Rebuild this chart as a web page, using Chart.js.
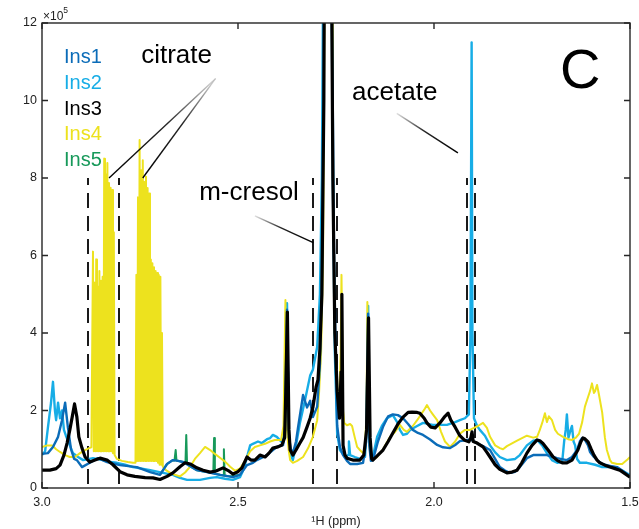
<!DOCTYPE html>
<html>
<head>
<meta charset="utf-8">
<script src="https://cdn.jsdelivr.net/npm/chart.js@4.4.1/dist/chart.umd.min.js"></script>
<style>
  html, body { margin: 0; padding: 0; background: #fff; }
  #wrap { width: 639px; height: 529px; }
</style>
</head>
<body>
<div id="wrap"><canvas id="spectrum" width="639" height="529"></canvas></div>
<script>
// ── Spectra (chemical shift in ppm, intensity in units of 1e5) ──────────

const ins1Ppm = [
  3.000, 2.985, 2.972, 2.959, 2.949, 2.941, 2.934, 2.926, 2.918, 2.911,
  2.898, 2.878, 2.857, 2.834, 2.801, 2.758, 2.724, 2.699, 2.681, 2.666,
  2.653, 2.640, 2.622, 2.605, 2.579, 2.546, 2.513, 2.495, 2.477, 2.462,
  2.452, 2.426, 2.401, 2.385, 2.380, 2.375, 2.370, 2.365, 2.360, 2.352,
  2.347, 2.334, 2.324, 2.316, 2.309, 2.298, 2.291, 2.286, 2.281, 2.275,
  2.270, 2.265, 2.260, 2.255, 2.251, 2.247, 2.240, 2.232, 2.222, 2.214,
  2.196, 2.181, 2.173, 2.168, 2.165, 2.161, 2.156, 2.143, 2.130, 2.117,
  2.105, 2.092, 2.079, 2.066, 2.054, 2.041, 2.028, 2.010, 1.992, 1.977,
  1.959, 1.946, 1.934, 1.916, 1.906, 1.900, 1.888, 1.875, 1.857, 1.844,
  1.832, 1.819, 1.806, 1.793, 1.781, 1.763, 1.747, 1.730, 1.712, 1.696,
  1.686, 1.671, 1.661, 1.648, 1.635, 1.628, 1.622, 1.615, 1.607, 1.602,
  1.592, 1.584, 1.571, 1.559, 1.546, 1.533, 1.520, 1.508, 1.500
];
const ins1Int = [
  0.88, 0.90, 1.06, 1.32, 1.75, 2.20, 1.57, 1.00, 0.75, 0.72,
  0.54, 0.65, 0.77, 0.67, 0.59, 0.54, 0.41, 0.34, 0.62, 0.72,
  0.70, 0.67, 0.56, 0.46, 0.41, 0.34, 0.28, 0.34, 0.59, 0.65,
  0.72, 0.85, 1.06, 1.11, 1.50, 4.60, 1.30, 1.00, 0.90, 1.20,
  1.55, 2.40, 2.08, 2.25, 1.83, 2.10, 3.20, 5.50, 12, 30,
  40, 25, 12, 6, 3.5, 1.6, 1.06, 0.85, 0.70, 0.62,
  0.62, 0.65, 1.20, 4.50, 1.10, 0.70, 0.72, 1.20, 1.58, 1.85,
  1.90, 1.88, 1.80, 1.65, 1.50, 1.42, 1.37, 1.25, 1.11, 1.05,
  1.03, 1.11, 1.21, 1.24, 1.25, 1.21, 1.14, 1.08, 0.98, 0.75,
  0.54, 0.45, 0.39, 0.42, 0.54, 0.77, 0.85, 0.85, 0.85, 0.80,
  0.77, 0.74, 0.72, 0.80, 0.98, 1.20, 1.29, 1.24, 1.10, 0.93,
  0.80, 0.72, 0.62, 0.59, 0.56, 0.54, 0.45, 0.36, 0.28
];

const ins2Ppm = [
  3.000, 2.992, 2.985, 2.977, 2.972, 2.967, 2.964, 2.959, 2.954, 2.949,
  2.944, 2.939, 2.929, 2.921, 2.908, 2.895, 2.870, 2.844, 2.827, 2.809,
  2.788, 2.768, 2.745, 2.724, 2.691, 2.666, 2.648, 2.630, 2.597, 2.571,
  2.554, 2.533, 2.513, 2.495, 2.485, 2.477, 2.469, 2.462, 2.449, 2.439,
  2.426, 2.418, 2.411, 2.401, 2.390, 2.385, 2.380, 2.375, 2.371, 2.367,
  2.360, 2.352, 2.342, 2.329, 2.316, 2.309, 2.298, 2.291, 2.286, 2.281,
  2.275, 2.272, 2.268, 2.263, 2.258, 2.253, 2.247, 2.240, 2.227, 2.219,
  2.217, 2.214, 2.202, 2.189, 2.176, 2.172, 2.168, 2.165, 2.161, 2.156,
  2.145, 2.133, 2.120, 2.105, 2.094, 2.087, 2.079, 2.069, 2.061, 2.043,
  2.028, 2.003, 1.985, 1.967, 1.946, 1.934, 1.921, 1.911, 1.907, 1.904,
  1.902, 1.898, 1.890, 1.883, 1.870, 1.857, 1.844, 1.832, 1.814, 1.793,
  1.781, 1.763, 1.747, 1.737, 1.724, 1.712, 1.699, 1.686, 1.673, 1.668,
  1.664, 1.661, 1.657, 1.653, 1.648, 1.644, 1.640, 1.635, 1.628, 1.610,
  1.589, 1.571, 1.551, 1.533, 1.520, 1.508, 1.500
];
const ins2Int = [
  0.85, 0.95, 1.55, 2.20, 2.74, 2.00, 1.75, 2.20, 1.80, 2.00,
  1.50, 1.35, 1.10, 0.90, 0.80, 0.72, 0.77, 0.72, 0.67, 0.65,
  0.60, 0.54, 0.50, 0.46, 0.39, 0.34, 0.26, 0.21, 0.21, 0.26,
  0.28, 0.24, 0.21, 0.28, 0.50, 0.80, 1.10, 1.14, 1.20, 1.16,
  1.26, 1.29, 1.37, 1.32, 1.20, 1.15, 1.80, 4.77, 1.50, 0.90,
  0.72, 1.10, 1.68, 2.27, 2.90, 3.05, 3.64, 5, 8, 16,
  35, 40, 30, 16, 8, 3.5, 1.4, 0.98, 0.80, 0.85,
  1.20, 0.85, 0.80, 0.75, 0.80, 1.50, 4.70, 1.50, 0.85, 0.80,
  1.32, 1.60, 1.80, 1.88, 1.70, 1.50, 1.37, 1.40, 1.50, 1.60,
  1.68, 1.63, 1.63, 1.63, 1.70, 1.75, 1.80, 1.90, 4.0, 11.5,
  4.0, 1.80, 1.60, 1.50, 1.35, 1.10, 0.92, 0.80, 0.72, 0.75,
  0.85, 1.10, 1.22, 1.24, 1.10, 0.90, 0.72, 0.65, 0.67, 1.20,
  1.50, 1.90, 1.30, 1.45, 1.60, 1.20, 1.10, 0.75, 0.65, 0.65,
  0.60, 0.54, 0.54, 0.50, 0.45, 0.38, 0.34
];

const ins3Ppm = [
  3.000, 2.980, 2.964, 2.954, 2.944, 2.936, 2.929, 2.923, 2.917, 2.911,
  2.906, 2.898, 2.890, 2.878, 2.865, 2.852, 2.834, 2.819, 2.801, 2.783,
  2.763, 2.737, 2.717, 2.699, 2.681, 2.666, 2.648, 2.635, 2.622, 2.605,
  2.589, 2.571, 2.556, 2.538, 2.525, 2.513, 2.500, 2.490, 2.477, 2.467,
  2.457, 2.444, 2.431, 2.421, 2.411, 2.398, 2.388, 2.381, 2.378, 2.374,
  2.370, 2.367, 2.360, 2.352, 2.342, 2.334, 2.324, 2.316, 2.309, 2.301,
  2.296, 2.291, 2.286, 2.281, 2.275, 2.272, 2.268, 2.263, 2.258, 2.253,
  2.247, 2.241, 2.237, 2.235, 2.232, 2.227, 2.222, 2.207, 2.189, 2.179,
  2.172, 2.167, 2.163, 2.159, 2.156, 2.143, 2.130, 2.117, 2.105, 2.092,
  2.079, 2.066, 2.056, 2.043, 2.036, 2.025, 2.018, 2.008, 1.997, 1.985,
  1.972, 1.964, 1.957, 1.946, 1.934, 1.923, 1.911, 1.906, 1.903, 1.900,
  1.890, 1.875, 1.865, 1.857, 1.844, 1.832, 1.814, 1.801, 1.788, 1.776,
  1.763, 1.750, 1.737, 1.730, 1.722, 1.709, 1.696, 1.684, 1.673, 1.661,
  1.648, 1.633, 1.625, 1.620, 1.615, 1.607, 1.599, 1.592, 1.584, 1.577,
  1.564, 1.551, 1.538, 1.526, 1.513, 1.500
];
const ins3Int = [
  0.46, 0.46, 0.50, 0.59, 0.85, 1.16, 1.50, 1.83, 2.17, 1.83,
  1.32, 1.03, 0.80, 0.67, 0.72, 0.77, 0.72, 0.60, 0.42, 0.34,
  0.30, 0.27, 0.26, 0.22, 0.30, 0.39, 0.55, 0.65, 0.62, 0.52,
  0.46, 0.41, 0.44, 0.52, 0.45, 0.36, 0.42, 0.52, 0.80, 0.72,
  0.72, 0.85, 0.80, 0.90, 1.03, 1.06, 1.11, 1.30, 2.50, 4.54,
  1.50, 0.98, 0.85, 0.98, 1.16, 1.30, 1.57, 1.80, 2.08, 2.60,
  2.79, 3.60, 5.0, 10, 25, 42, 30, 16, 8, 4,
  2.5, 1.8, 3.0, 5.0, 1.1, 0.85, 0.77, 0.72, 0.72, 0.85,
  1.50, 4.39, 1.30, 0.75, 0.72, 0.85, 0.98, 1.20, 1.42, 1.65,
  1.83, 1.95, 1.96, 1.95, 1.93, 1.80, 1.68, 1.57, 1.55, 1.68,
  1.85, 1.93, 1.75, 1.57, 1.35, 1.24, 1.19, 1.30, 1.45, 1.20,
  1.16, 1.06, 0.92, 0.80, 0.60, 0.48, 0.39, 0.41, 0.46, 0.65,
  0.90, 1.10, 1.24, 1.22, 1.15, 0.98, 0.80, 0.70, 0.65, 0.65,
  0.72, 0.98, 1.20, 1.29, 1.27, 1.19, 1.00, 0.85, 0.72, 0.65,
  0.59, 0.54, 0.50, 0.46, 0.37, 0.28
];

const ins4Ppm = [
  3.000, 2.987, 2.974, 2.964, 2.954, 2.941, 2.929, 2.916, 2.903, 2.890,
  2.880, 2.874,
  // citrate, downfield half
  2.8699, 2.8679, 2.8658, 2.8638, 2.8617, 2.8597, 2.8577, 2.8556, 2.8536, 2.8515,
  2.8495, 2.8474, 2.8454, 2.8434, 2.8413, 2.8393, 2.8372, 2.8352, 2.8332, 2.8311,
  2.8291, 2.8270, 2.8250, 2.8230, 2.8209, 2.8189, 2.8168, 2.8148,
  2.809, 2.796, 2.781, 2.768, 2.7615,
  // citrate, upfield half
  2.7592, 2.7571, 2.7551, 2.7531, 2.7510, 2.7490, 2.7469, 2.7449, 2.7429, 2.7408,
  2.7388, 2.7367, 2.7347, 2.7327, 2.7306, 2.7286, 2.7265, 2.7245, 2.7224, 2.7204,
  2.7184, 2.7163, 2.7143, 2.7122, 2.7102, 2.7082, 2.7061, 2.7041, 2.7020, 2.7000,
  2.6980, 2.6959, 2.6939, 2.6918,
  2.684, 2.673, 2.661, 2.648, 2.635, 2.622, 2.610, 2.597, 2.584, 2.571,
  2.559, 2.546, 2.533, 2.520, 2.508, 2.495, 2.482, 2.469, 2.457, 2.444,
  2.431, 2.418, 2.406, 2.390, 2.384, 2.379, 2.375, 2.371, 2.367, 2.360,
  2.349, 2.334, 2.321, 2.309, 2.298, 2.293, 2.288, 2.283, 2.278, 2.273,
  2.269, 2.265, 2.260, 2.258, 2.253, 2.247, 2.242, 2.238, 2.236, 2.232,
  2.229, 2.222, 2.214, 2.209, 2.202, 2.196, 2.189, 2.181, 2.176, 2.172,
  2.170, 2.167, 2.163, 2.156, 2.145, 2.130, 2.112, 2.099, 2.087, 2.077,
  2.069, 2.054, 2.043, 2.033, 2.023, 2.018, 2.010, 2.003, 1.992, 1.982,
  1.972, 1.959, 1.946, 1.934, 1.921, 1.908, 1.898, 1.888, 1.875, 1.865,
  1.857, 1.844, 1.832, 1.824, 1.814, 1.801, 1.788, 1.773, 1.763, 1.747,
  1.737, 1.730, 1.724, 1.717, 1.712, 1.707, 1.699, 1.691, 1.684, 1.671,
  1.658, 1.648, 1.638, 1.630, 1.622, 1.615, 1.607, 1.602, 1.597, 1.592,
  1.589, 1.584, 1.579, 1.571, 1.564, 1.559, 1.551, 1.546, 1.533, 1.520,
  1.508, 1.500
];
const ins4Int = [
  1.06, 1.10, 1.10, 1.00, 0.93, 0.85, 0.80, 0.80, 0.90, 0.98,
  1.03, 1.05,
  6.10, 0.95, 5.30, 0.95, 5.90, 0.95, 5.20, 0.95, 5.60, 0.95,
  5.35, 0.95, 5.45, 0.95, 8.50, 0.95, 8.10, 0.95, 8.39, 0.95,
  7.87, 0.95, 7.75, 0.95, 7.69, 0.90, 6.60, 0.85,
  0.75, 0.70, 0.67, 0.65, 0.65,
  5.50, 0.70, 7.50, 0.70, 8.98, 0.70, 8.20, 0.70, 8.46, 0.70,
  7.90, 0.70, 8.03, 0.70, 7.74, 0.70, 7.60, 0.70, 5.90, 0.70,
  5.80, 0.70, 5.70, 0.70, 5.60, 0.70, 5.55, 0.65, 5.50, 0.60,
  5.45, 0.60, 4.00, 0.55,
  0.46, 0.39, 0.34, 0.30, 0.40, 0.55, 0.75, 0.90, 1.06, 0.98,
  0.88, 0.78, 0.68, 0.55, 0.45, 0.50, 0.70, 0.95, 1.06, 1.10,
  1.14, 1.20, 1.24, 1.24, 1.60, 4.85, 1.50, 1.00, 0.72, 0.65,
  0.70, 0.80, 1.03, 1.32, 1.75, 2.50, 3.50, 6.0, 15, 35,
  42, 25, 12, 9, 4, 2.5, 2.2, 3.5, 5.5, 2.0,
  1.68, 1.62, 1.65, 1.60, 1.30, 1.06, 0.98, 0.90, 1.00, 2.00,
  4.80, 1.50, 0.90, 0.75, 0.80, 1.00, 1.32, 1.45, 1.63, 1.50,
  1.45, 1.60, 1.75, 1.90, 2.05, 2.14, 2.00, 1.90, 1.75, 1.45,
  1.20, 1.06, 1.20, 1.40, 1.50, 1.50, 1.55, 1.60, 1.68, 1.55,
  1.32, 1.10, 1.03, 1.00, 1.08, 1.15, 1.22, 1.30, 1.35, 1.30,
  1.32, 1.50, 1.68, 1.93, 1.70, 1.85, 1.75, 1.50, 1.40, 1.32,
  1.26, 1.24, 1.30, 1.40, 1.70, 2.10, 2.35, 2.50, 2.70, 2.45,
  2.50, 2.66, 2.40, 1.95, 1.30, 0.98, 0.72, 0.65, 0.62, 0.62,
  0.72, 0.80
];

const ins5Ppm = [
  2.699, 2.681, 2.668, 2.662, 2.659, 2.657, 2.648, 2.638, 2.634, 2.632,
  2.630, 2.622, 2.605, 2.579, 2.563, 2.561, 2.559, 2.546, 2.537, 2.536,
  2.534, 2.520, 2.495
];
const ins5Int = [
  0.34, 0.62, 0.71, 0.71, 0.98, 0.71, 0.69, 0.66, 0.64, 1.37,
  0.62, 0.56, 0.46, 0.41, 0.38, 1.29, 0.37, 0.34, 0.32, 1.00,
  0.32, 0.30, 0.34
];

const sampleNames = ['Ins1', 'Ins2', 'Ins3', 'Ins4', 'Ins5'];
const sampleColors = ['#0B6CB8', '#17ADE6', '#000000', '#EDE21E', '#17995A'];

// integration windows (ppm), drawn as dashed markers up to dashTop
const dashPpm = [2.883, 2.804, 2.309, 2.247, 1.917, 1.895];
const dashTop = 8;

// compound labels and their leader lines, in data units
const labelText = ['citrate', 'm-cresol', 'acetate'];
const labelAt = [[2.747, 10.97], [2.599, 7.43], [2.209, 10.01]];
const leaders = [
  [[2.557, 10.57], [2.829, 8.0]],
  [[2.557, 10.57], [2.743, 8.0]],
  [[2.457, 7.02], [2.308, 6.33]],
  [[2.095, 9.67], [1.939, 8.65]]
];

const FONT = '"Liberation Sans", Arial, Helvetica, sans-serif';
Chart.defaults.font.family = FONT;

const toPoints = (xs, ys) => xs.map((v, i) => ({ x: v, y: ys[i] }));

const series = [
  { ppm: ins1Ppm, int: ins1Int, order: 1, width: 2.4 },
  { ppm: ins2Ppm, int: ins2Int, order: 3, width: 2.4 },
  { ppm: ins3Ppm, int: ins3Int, order: 0, width: 3.2 },
  { ppm: ins4Ppm, int: ins4Int, order: 2, width: 2 },
  { ppm: ins5Ppm, int: ins5Int, order: 4, width: 2 }
];

const datasets = series.map((s, i) => ({
  label: sampleNames[i],
  data: toPoints(s.ppm, s.int),
  borderColor: sampleColors[i],
  backgroundColor: sampleColors[i],
  borderWidth: s.width,
  borderJoinStyle: 'round',
  pointRadius: 0,
  tension: 0,
  fill: false,
  order: s.order
}));

// frame, inward ticks, markers and text drawn on top of the chart area
const overlay = {
  id: 'overlay',
  beforeDatasetsDraw(chart) {
    const { ctx, scales: { x, y } } = chart;
    ctx.save();
    ctx.strokeStyle = '#1a1a1a';
    ctx.lineWidth = 2;
    ctx.setLineDash([15, 8]);
    ctx.lineDashOffset = 8;
    dashPpm.forEach(p => {
      const px = Math.round(x.getPixelForValue(p));
      ctx.beginPath();
      ctx.moveTo(px, y.getPixelForValue(dashTop));
      ctx.lineTo(px, y.getPixelForValue(0));
      ctx.stroke();
    });
    ctx.restore();
  },
  afterDatasetsDraw(chart) {
    const { ctx, chartArea: a, scales: { x, y } } = chart;
    ctx.save();

    // box
    ctx.strokeStyle = '#262626';
    ctx.lineWidth = 1.4;
    ctx.strokeRect(a.left, a.top, a.right - a.left, a.bottom - a.top);

    // ticks pointing inward on all four sides
    const tl = 6;
    ctx.beginPath();
    x.ticks.forEach(t => {
      const px = x.getPixelForValue(t.value);
      ctx.moveTo(px, a.bottom); ctx.lineTo(px, a.bottom - tl);
      ctx.moveTo(px, a.top); ctx.lineTo(px, a.top + tl);
    });
    y.ticks.forEach(t => {
      const py = y.getPixelForValue(t.value);
      ctx.moveTo(a.left, py); ctx.lineTo(a.left + tl, py);
      ctx.moveTo(a.right, py); ctx.lineTo(a.right - tl, py);
    });
    ctx.stroke();

    // leader lines fade in from the label side
    ctx.lineWidth = 1.4;
    leaders.forEach(([from, to]) => {
      const x0 = x.getPixelForValue(from[0]), y0 = y.getPixelForValue(from[1]);
      const x1 = x.getPixelForValue(to[0]), y1 = y.getPixelForValue(to[1]);
      const g = ctx.createLinearGradient(x0, y0, x1, y1);
      g.addColorStop(0, 'rgba(0,0,0,0.12)');
      g.addColorStop(0.45, 'rgba(0,0,0,0.85)');
      g.addColorStop(1, '#000');
      ctx.strokeStyle = g;
      ctx.beginPath();
      ctx.moveTo(x0, y0);
      ctx.lineTo(x1, y1);
      ctx.stroke();
    });

    // compound names
    ctx.fillStyle = '#000';
    ctx.textBaseline = 'alphabetic';
    ctx.textAlign = 'left';
    ctx.font = '26px ' + FONT;
    labelText.forEach((txt, i) => {
      ctx.fillText(txt, x.getPixelForValue(labelAt[i][0]), y.getPixelForValue(labelAt[i][1]));
    });

    // panel letter
    ctx.font = '56px ' + FONT;
    ctx.fillText('C', a.right - 70, a.top + 65);

    // coloured sample names
    ctx.font = '20px ' + FONT;
    chart.data.datasets.forEach((ds, i) => {
      ctx.fillStyle = ds.borderColor;
      ctx.fillText(ds.label, a.left + 22, a.top + 40 + i * 25.8);
    });

    // axis multiplier
    ctx.fillStyle = '#222';
    ctx.font = '12px ' + FONT;
    ctx.fillText('\u00d710', a.left + 1, a.top - 3);
    const w = ctx.measureText('\u00d710').width;
    ctx.font = '8.5px ' + FONT;
    ctx.fillText('5', a.left + 1 + w, a.top - 10);

    ctx.restore();
  }
};

new Chart(document.getElementById('spectrum'), {
  type: 'line',
  data: { datasets },
  options: {
    responsive: false,
    animation: false,
    events: [],
    layout: { padding: { top: 23, right: 9, left: 0, bottom: 0 } },
    plugins: {
      legend: { display: false },
      tooltip: { enabled: false }
    },
    scales: {
      x: {
        type: 'linear',
        reverse: true,
        min: 1.5,
        max: 3,
        border: { display: false },
        grid: { display: false, drawTicks: false },
        ticks: {
          stepSize: 0.5,
          padding: 7,
          color: '#222',
          font: { size: 12.5 },
          maxRotation: 0,
          autoSkip: false
        },
        title: {
          display: true,
          text: '\u00b9H (ppm)',
          color: '#222',
          font: { size: 12.5 },
          padding: { top: 0, bottom: 0 }
        },
        afterFit: s => {
          s.height = 41;
          s.paddingLeft = 0;
          s.paddingRight = 0;
        }
      },
      y: {
        min: 0,
        max: 12,
        border: { display: false },
        grid: { display: false, drawTicks: false },
        ticks: {
          stepSize: 2,
          padding: 5,
          color: '#222',
          font: { size: 12.5 }
        },
        afterFit: s => {
          s.width = 42;
          s.paddingTop = 0;
          s.paddingBottom = 0;
        }
      }
    }
  },
  plugins: [overlay]
});
</script>
</body>
</html>
